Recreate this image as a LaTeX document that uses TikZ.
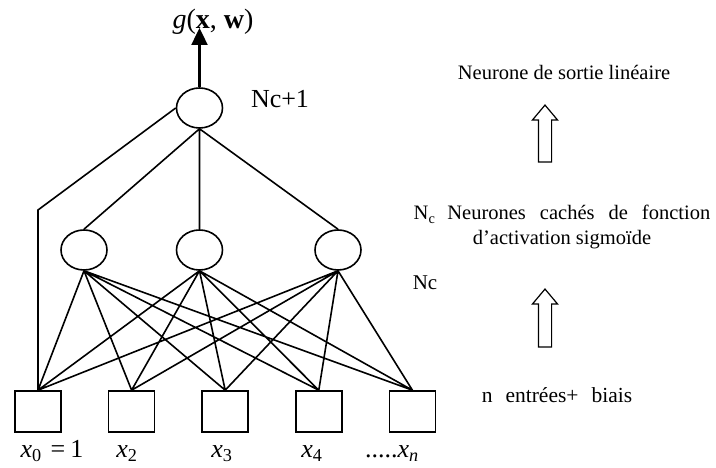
\documentclass[tikz,border=0pt]{standalone}
\usepackage{fontspec}
\setmainfont{Liberation Serif}
\usetikzlibrary{positioning,arrows.meta,shapes.geometric,shapes.arrows}

\begin{document}
\begin{tikzpicture}[x=1pt,y=1pt,node distance=46pt,
  txt/.style={font=\fontsize{20.5}{25}\selectfont,inner sep=0pt,anchor=base},
  var/.style={font=\fontsize{26}{30}\selectfont,inner sep=0pt,anchor=base},
  unit/.style={ellipse,draw,line width=1.6pt,minimum width=46pt,minimum height=40pt,inner sep=0pt},
  entree/.style={rectangle,draw,line width=1.6pt,minimum width=46pt,minimum height=41pt,inner sep=0pt},
  lien/.style={line width=1.6pt},
  fleche/.style={single arrow,draw,line width=1.2pt,shape border rotate=90,
    single arrow head extend=6pt,single arrow tip angle=80,inner sep=6pt}]
\useasboundingbox (0,0) rectangle (716,468);
% entrees, couche cachee, sortie
\node[entree] (e0) at (38,56.5) {}; \node[entree,right=of e0] (e2) {}; \node[entree,right=of e2] (e3) {};
\node[entree,right=of e3] (e4) {}; \node[entree,right=of e4] (en) {};
\node[unit] (c1) at (84,218) {}; \node[unit] (c2) at (199.5,218) {}; \node[unit] (c3) at (338,218) {};
\node[unit] (s) at (199.5,360) {};
\coordinate (coude) at (38,258); \coordinate (sortie) at (199.5,440);
\draw[lien] (s.west) -- (coude) -- (e0.north);
\draw[lien] (s.south) -- (c1.north) (s.south) -- (c2.north) (s.south) -- (c3.north);
\draw[lien] (c1.south) -- (e0.north) (c1.south) -- (e2.north) (c1.south) -- (e3.north) (c1.south) -- (e4.north) (c1.south) -- (en.north)
(c2.south) -- (e0.north) (c2.south) -- (e2.north) (c2.south) -- (e3.north) (c2.south) -- (e4.north) (c2.south) -- (en.north)
(c3.south) -- (e0.north) (c3.south) -- (e2.north) (c3.south) -- (e3.north) (c3.south) -- (e4.north) (c3.south) -- (en.north);
\draw[line width=2.4pt,-{Triangle[length=17pt,width=16pt]}] (s.north) -- (sortie);
% labels
\node[var,font=\fontsize{28}{32}\selectfont] (g) at (213,439) {\textit{g}(\textbf{x}, \textbf{w})};
\node[var] (l0) at (52,10) {\textit{x}\textsubscript{0}\hspace{9pt}=\hspace{5pt}1}; \node[var] (l2) at (127,10) {\textit{x}\textsubscript{2}};
\node[var] (l3) at (222,10) {\textit{x}\textsubscript{3}}; \node[var] (l4) at (312,10) {\textit{x}\textsubscript{4}};
\node[var] (ln) at (392,10) {.....\textit{x}\textsubscript{\textit{n}}};
\node[txt,font=\fontsize{26}{30}\selectfont] (nc1) at (280,360) {Nc+1}; \node[txt,font=\fontsize{21}{25}\selectfont] (nc) at (425,178) {Nc};
% legende
\node[txt] (t1) at (564,388) {Neurone de sortie linéaire};
\node[fleche,minimum height=57pt] (f1) at (545,330.5) {};
\node[txt,align=center] (t2) at (562,223) {N\textsubscript{c}\hspace{12pt}Neurones\hspace{14pt}cachés\hspace{14pt}de\hspace{14pt}fonction\\d’activation sigmoïde};
\node[fleche,minimum height=58pt] (f2) at (545,146) {};
\node[txt,font=\fontsize{21.5}{25}\selectfont] (t3) at (557,65) {n\hspace{13pt}entrées+\hspace{13pt}biais};
\end{tikzpicture}
\end{document}
